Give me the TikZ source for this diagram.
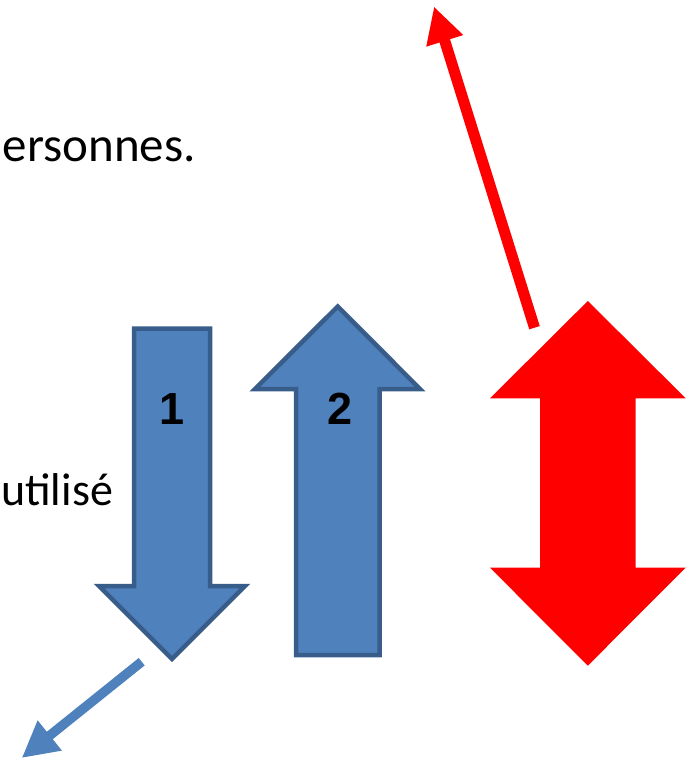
\documentclass[tikz,border=0pt]{standalone}
\usepackage{fontspec}
\setmainfont{Carlito}
\newfontfamily\labelfont{Liberation Sans}
\usetikzlibrary{arrows.meta}
\definecolor{pptblue}{HTML}{4F81BD}
\definecolor{pptblueline}{HTML}{385D8A}
\definecolor{pptred}{HTML}{FF0000}
\begin{document}
\begin{tikzpicture}[x=1pt,y=-1pt,
  bluearrow/.style={fill=pptblue,draw=pptblueline,line width=4.5pt,line join=miter},
  redarrow/.style={fill=pptred},
  bodytext/.style={inner sep=0pt,font=\fontsize{49}{59}\selectfont},
  numlabel/.style={inner sep=0pt,font=\labelfont\bfseries\fontsize{45}{54}\selectfont},
  pointer/.style={line width=#1,-{Triangle[length=36pt,width=36pt]}}]
\useasboundingbox (0,0) rectangle (693,759);

% text lines
\node[bodytext,anchor=base east] (t1) at (196,162) {ersonnes.};
\node[bodytext,font=\fontsize{46}{55}\selectfont,anchor=base west] (t2) at (1,505) {utilisé};

% arrow 1 (pointing down)
\draw[bluearrow] (134,328.5) -- (210,328.5) -- (210,586) -- (245,586) -- (172,659)
  -- (99,586) -- (134,586) -- cycle;
\node[numlabel] (n1) at (172.5,409) {1};

% arrow 2 (pointing up)
\draw[bluearrow] (296,655) -- (379.5,655) -- (379.5,389) -- (420,389) -- (337.7,306.5)
  -- (255,389) -- (296,389) -- cycle;
\node[numlabel] (n2) at (340,409) {2};

% red double-headed arrow
\fill[redarrow] (587.8,301) -- (685.7,398.3) -- (635.7,398.3) -- (635.7,567.7)
  -- (685.7,567.7) -- (587.8,665.7) -- (490,567.7) -- (540,567.7) -- (540,398.3)
  -- (490,398.3) -- cycle;

% pointer arrows
\coordinate (rs) at (534.5,327.7);
\coordinate (re) at (434,6.5);
\draw[pointer=11pt,draw=pptred,fill=pptred] (rs) -- (re);
\coordinate (bs) at (141.7,661.7);
\coordinate (be) at (21.7,758);
\draw[pointer=9.5pt,draw=pptblue,fill=pptblue] (bs) -- (be);
\end{tikzpicture}
\end{document}
